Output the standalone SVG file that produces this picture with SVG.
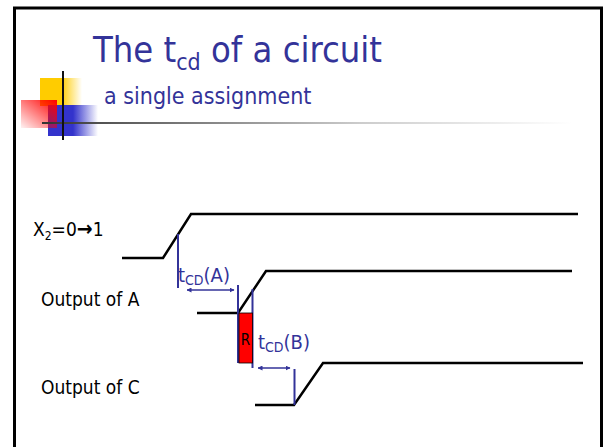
<svg xmlns="http://www.w3.org/2000/svg" width="603" height="447" viewBox="0 0 603 447">
<defs>
<style>
.f{font-family:'DejaVu Sans Condensed','DejaVu Sans',sans-serif;font-stretch:condensed}
.title{fill:#333399;font-size:36px}
.sub{fill:#333399;font-size:23px}
.lbl{fill:#000;font-size:19px}
.blbl{fill:#333399;font-size:20px}
.wave{fill:none;stroke:#000;stroke-width:2.5;stroke-linejoin:miter}
.mark{fill:none;stroke:#333399;stroke-width:2}
.arr{fill:none;stroke:#333399;stroke-width:1.5;marker-start:url(#ah);marker-end:url(#ah)}
</style>
<marker id="ah" viewBox="0 0 10 10" refX="9" refY="5" markerWidth="5" markerHeight="5" orient="auto-start-reverse" markerUnits="userSpaceOnUse">
<path d="M0,0 L10,5 L0,10 z" fill="#333399"/>
</marker>
<linearGradient id="gy" x1="0" y1="0" x2="1" y2="0">
<stop offset="0" stop-color="#FFCC00"/><stop offset="0.5" stop-color="#FFCC00"/><stop offset="1" stop-color="#FFCC00" stop-opacity="0"/>
</linearGradient>
<linearGradient id="gb" x1="0" y1="0" x2="1" y2="0">
<stop offset="0" stop-color="#3333CC"/><stop offset="0.5" stop-color="#3333CC"/><stop offset="1" stop-color="#3333CC" stop-opacity="0"/>
</linearGradient>
<linearGradient id="gr" x1="1" y1="0" x2="0" y2="1">
<stop offset="0" stop-color="#FF0000"/><stop offset="1" stop-color="#FF0000" stop-opacity="0.05"/>
</linearGradient>
<linearGradient id="gl" x1="0" y1="0" x2="1" y2="0">
<stop offset="0" stop-color="#333333"/><stop offset="0.12" stop-color="#555555"/><stop offset="0.6" stop-color="#cccccc"/><stop offset="1" stop-color="#ffffff"/>
</linearGradient>
</defs>
<rect x="0" y="0" width="603" height="447" fill="#fff"/>
<rect x="14.5" y="8" width="587" height="460" fill="#fff" stroke="#000" stroke-width="3"/>

<g id="logo">
<rect x="40" y="78" width="42" height="28" fill="url(#gy)"/>
<rect x="48" y="105" width="50" height="31" fill="url(#gb)"/>
<rect x="21" y="100" width="36" height="28" fill="url(#gr)"/>
<rect x="42" y="122" width="530" height="2" fill="url(#gl)"/>
<rect x="62" y="71" width="2" height="69" fill="#111"/>
</g>

<g id="title">
<text class="f title" x="93" y="62">The t<tspan font-size="23" dy="8">cd</tspan><tspan dy="-8"> of a circuit</tspan></text>
<text class="f sub" x="104" y="104">a single assignment</text>
</g>

<g id="label-x2"><text class="f lbl" x="33" y="236">X<tspan font-size="12" dy="4">2</tspan><tspan dy="-4">=0</tspan><tspan font-weight="bold" font-size="21">→</tspan><tspan>1</tspan></text></g>
<g id="label-a"><text class="f lbl" x="41" y="306">Output of A</text></g>
<g id="label-c"><text class="f lbl" x="41" y="394">Output of C</text></g>

<g id="connectors">
<polyline class="wave" points="122,258 163,258 191,214 578,214"/>
<polyline class="wave" points="197,313 238,313 266,271 572,271"/>
<polyline class="wave" points="255,405 294,405 323,363 583,363"/>
<line class="mark" x1="178" y1="234" x2="178" y2="288"/>
<line class="mark" x1="238" y1="285" x2="238" y2="363"/>
<line class="mark" x1="252.5" y1="289" x2="252.5" y2="368"/>
<line class="mark" x1="294.5" y1="369" x2="294.5" y2="405"/>
<line class="arr" x1="187" y1="290" x2="234" y2="290"/>
<line class="arr" x1="258" y1="368" x2="290" y2="368"/>
</g>

<g id="node-R">
<rect x="239" y="313" width="13.5" height="50" fill="#FF0000" stroke="#000" stroke-width="0.8"/>
<text class="f" x="245.5" y="345" font-size="15" text-anchor="middle" fill="#000">R</text>
</g>

<g id="label-tcda"><text class="f blbl" x="178" y="282">t<tspan font-size="14" dy="3">CD</tspan><tspan dy="-3">(A)</tspan></text></g>
<g id="label-tcdb"><text class="f blbl" x="258" y="349">t<tspan font-size="14" dy="3">CD</tspan><tspan dy="-3">(B)</tspan></text></g>
</svg>
